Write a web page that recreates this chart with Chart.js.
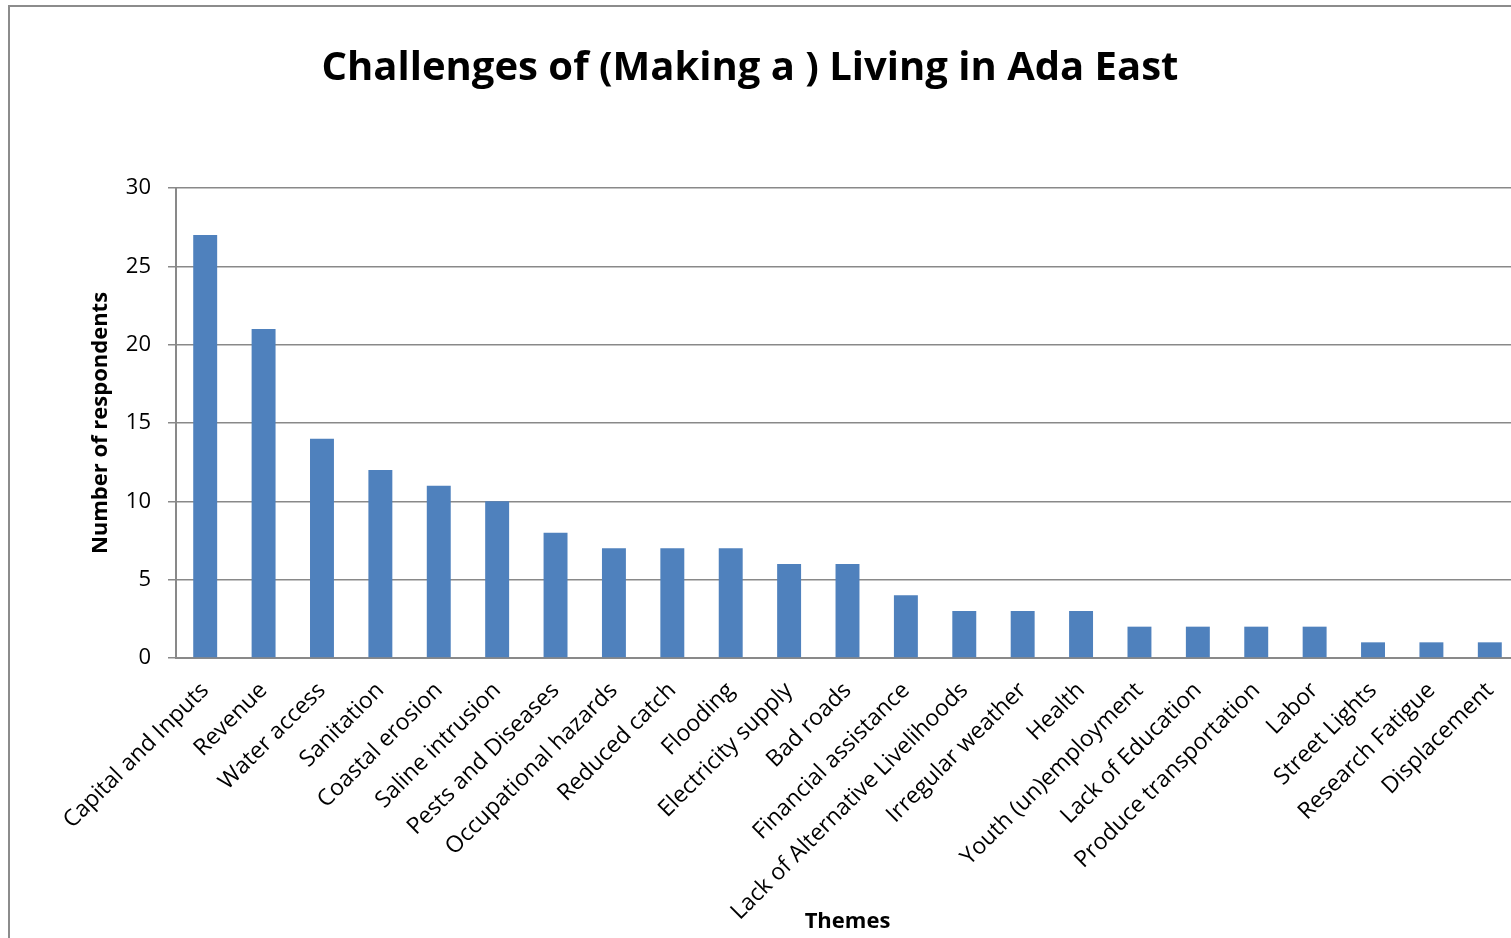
<!DOCTYPE html>
<html>
<head>
<meta charset="utf-8">
<script src="https://cdn.jsdelivr.net/npm/chart.js@4/dist/chart.umd.min.js"></script>
<style>
  html, body { margin: 0; padding: 0; overflow: hidden; background: #fff; width: 1511px; height: 938px; }
  #frame { position: absolute; left: 8px; top: 5px; width: 1600px; height: 1000px;
           border-left: 2px solid #8c8c8c; border-top: 2px solid #8c8c8c; z-index: 2; pointer-events: none; }
  #chart { position: absolute; left: -19px; top: 8px; }
</style>
</head>
<body>
<div id="frame"></div>
<canvas id="chart" width="1539" height="930"></canvas>
<script>
// Themes named by respondents
var themes = ['Capital and Inputs', 'Revenue', 'Water access', 'Sanitation', 'Coastal erosion',
    'Saline intrusion', 'Pests and Diseases', 'Occupational hazards', 'Reduced catch', 'Flooding',
    'Electricity supply', 'Bad roads', 'Financial assistance', 'Lack of Alternative Livelihoods',
    'Irregular weather', 'Health', 'Youth (un)employment', 'Lack of Education',
    'Produce transportation', 'Labor', 'Street Lights', 'Research Fatigue', 'Displacement'];
var respondents = [27, 21, 14, 12, 11, 10, 8, 7, 7, 7, 6, 6, 4, 3, 3, 3, 2, 2, 2, 2, 1, 1, 1];
var yMin = 0, yMax = 30, yStep = 5;

var font = 'Open Sans';
var gridGrey = '#898989';

var ctx = document.getElementById('chart').getContext('2d');
var chart = new Chart(ctx, {
    type: 'bar',
    data: {
        labels: themes,
        datasets: [{
            label: 'Number of respondents',
            data: respondents,
            backgroundColor: '#4F81BD',
            borderWidth: 0,
            categoryPercentage: 1.0,
            barPercentage: 0.41
        }]
    },
    options: {
        responsive: false,
        animation: false,
        layout: { padding: { left: 0, right: 1, top: 0, bottom: 0 } },
        plugins: {
            legend: { display: false },
            tooltip: { enabled: false },
            title: {
                display: true,
                text: 'Challenges of (Making a ) Living in Ada East',
                color: '#000',
                font: { family: font, size: 40, weight: 'bold', lineHeight: 1.2 },
                padding: { top: 37, bottom: 95 }
            }
        },
        scales: {
            x: {
                grid: { display: false, drawTicks: false },
                border: { display: true, color: gridGrey, width: 2 },
                ticks: {
                    color: '#000',
                    font: { family: font, size: 23 },
                    minRotation: 45,
                    maxRotation: 45,
                    autoSkip: false,
                    padding: 19
                },
                title: {
                    display: true,
                    text: 'Themes',
                    color: '#000',
                    font: { family: font, size: 22, weight: 'bold', lineHeight: 1.2 },
                    padding: { top: 0, bottom: 3 }
                },
                afterFit: function(scale) {
                    scale.height = 280;
                    // the plot runs off the right edge, as in the original
                    scale.paddingLeft = 0;
                    scale.paddingRight = 0;
                }
            },
            y: {
                min: yMin,
                max: yMax,
                grid: { color: gridGrey, lineWidth: 1.5, tickLength: 8 },
                border: { display: true, color: gridGrey, width: 2 },
                ticks: {
                    stepSize: yStep,
                    color: '#000',
                    font: { family: font, size: 22 },
                    padding: 17
                },
                title: {
                    display: true,
                    text: 'Number of respondents',
                    color: '#000',
                    font: { family: font, size: 22, weight: 'bold', lineHeight: 1.2 },
                    padding: { top: 107, bottom: 0 }
                },
                afterFit: function(scale) { scale.width = 195; }
            }
        }
    }
});
</script>
</body>
</html>
